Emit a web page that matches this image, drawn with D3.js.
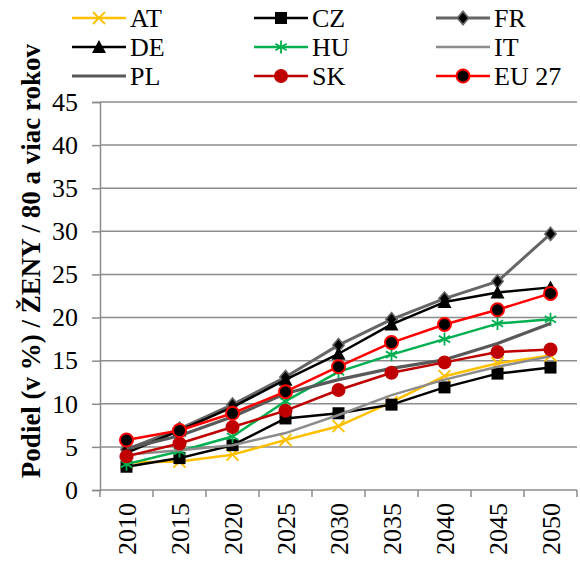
<!DOCTYPE html>
<html>
<head>
<meta charset="utf-8">
<script src="https://cdn.jsdelivr.net/npm/d3@7"></script>
<style>
  body { margin: 0; background: #fff; }
</style>
</head>
<body>
<div id="chart"></div>
<script>
// years on the x axis
const years = ["2010", "2015", "2020", "2025", "2030", "2035", "2040", "2045", "2050"];
const yTicks = [0, 5, 10, 15, 20, 25, 30, 35, 40, 45];

// share of women aged 80+ (%)
const AT = [3.2, 3.3, 4.1, 5.8, 7.4, 10.2, 13.2, 14.7, 15.6];
const CZ = [2.7, 3.7, 5.2, 8.3, 8.9, 9.9, 11.9, 13.5, 14.2];
const FR = [4.7, 7.1, 9.9, 13.1, 16.8, 19.8, 22.2, 24.2, 29.7];
const DE = [4.3, 6.9, 9.6, 12.8, 15.8, 19.2, 21.8, 22.9, 23.5];
const HU = [3.0, 4.5, 6.2, 10.3, 13.7, 15.7, 17.5, 19.3, 19.8];
const IT = [4.1, 4.6, 5.2, 6.6, 8.7, 11.0, 12.8, 14.3, 15.5];
const PL = [4.8, 6.3, 8.5, 11.2, 12.8, 14.1, 15.1, 17.0, 19.3];
const SK = [3.9, 5.4, 7.3, 9.2, 11.6, 13.6, 14.8, 16.0, 16.3];
const EU27 = [5.8, 6.9, 8.9, 11.4, 14.3, 17.1, 19.2, 20.9, 22.8];

const series = [
  { name: "AT", values: AT, color: "#FFC000", marker: "x", width: 2.5 },
  { name: "CZ", values: CZ, color: "#000000", marker: "square", width: 2.5 },
  { name: "FR", values: FR, color: "#666666", marker: "diamond", width: 3 },
  { name: "DE", values: DE, color: "#000000", marker: "triangle", width: 2.5 },
  { name: "HU", values: HU, color: "#00B050", marker: "star", width: 2.5 },
  { name: "IT", values: IT, color: "#8C8C8C", marker: null, width: 2.5 },
  { name: "PL", values: PL, color: "#595959", marker: null, width: 3.2 },
  { name: "SK", values: SK, color: "#C00000", marker: "circle", width: 2.5 },
  { name: "EU 27", values: EU27, color: "#FF0000", marker: "eu", width: 2.5 }
];

const FONT = "'Liberation Serif'";
const FS = "26px";

const W = 580, H = 570;
const svg = d3.select("#chart").append("svg")
  .attr("width", W).attr("height", H);

const plotLeft = 100, plotRight = 577, plotTop = 102, plotBottom = 490;

const x = d3.scaleBand().domain(years).range([plotLeft, plotRight]);
const y = d3.scaleLinear().domain([0, 45]).range([plotBottom, plotTop]);
const cx = d => x(d) + x.bandwidth() / 2;

// gridlines
svg.append("g").selectAll("line")
  .data(yTicks.filter(t => t > 0))
  .join("line")
  .attr("x1", plotLeft).attr("x2", plotRight)
  .attr("y1", d => y(d)).attr("y2", d => y(d))
  .attr("stroke", "#8C8C8C").attr("stroke-width", 1.5);

// y axis
const yAxis = svg.append("g")
  .attr("transform", `translate(${plotLeft},0)`)
  .call(d3.axisLeft(y).tickValues(yTicks).tickSize(8).tickPadding(14))
  .attr("font-family", null).attr("font-size", null);
yAxis.select(".domain").attr("stroke", "#8C8C8C").attr("stroke-width", 1.5);
yAxis.selectAll(".tick line").attr("stroke", "#8C8C8C").attr("stroke-width", 1.5);
yAxis.selectAll(".tick text")
  .attr("fill", "#000")
  .style("font-size", FS)
  .style("font-family", FONT);

// x axis: ticks between categories
svg.append("line")
  .attr("x1", plotLeft).attr("x2", plotRight)
  .attr("y1", plotBottom).attr("y2", plotBottom)
  .attr("stroke", "#8C8C8C").attr("stroke-width", 1.5);
svg.append("g").selectAll("line")
  .data(years.concat(["end"]))
  .join("line")
  .attr("x1", (d, i) => plotLeft + i * x.step())
  .attr("x2", (d, i) => plotLeft + i * x.step())
  .attr("y1", plotBottom).attr("y2", plotBottom + 7)
  .attr("stroke", "#8C8C8C").attr("stroke-width", 1.5);

svg.append("g").selectAll("text")
  .data(years)
  .join("text")
  .attr("transform", d => `translate(${cx(d) + 9},${plotBottom + 13}) rotate(-90)`)
  .attr("text-anchor", "end")
  .style("font-family", FONT)
  .style("font-size", FS)
  .text(d => d);

// y title
svg.append("text")
  .attr("transform", `translate(40,261) rotate(-90)`)
  .attr("text-anchor", "middle")
  .style("font-family", FONT)
  .style("font-size", "27px")
  .style("font-weight", "bold")
  .text("Podiel (v %) / ŽENY / 80 a viac rokov");

function drawMarker(g, s, px, py) {
  const m = s.marker;
  if (m === "x") {
    const r = 6;
    g.append("path")
      .attr("d", `M${px - r},${py - r}L${px + r},${py + r}M${px - r},${py + r}L${px + r},${py - r}`)
      .attr("stroke", s.color).attr("stroke-width", 1.8).attr("fill", "none");
  } else if (m === "square") {
    g.append("rect").attr("x", px - 6).attr("y", py - 6)
      .attr("width", 12).attr("height", 12).attr("fill", "#000");
  } else if (m === "diamond") {
    g.append("path")
      .attr("d", d3.symbol(d3.symbolDiamond, 70)())
      .attr("transform", `translate(${px},${py}) scale(1.25,0.85)`)
      .attr("fill", "#000").attr("stroke", "#666").attr("stroke-width", 1.5);
  } else if (m === "triangle") {
    g.append("path")
      .attr("d", `M${px},${py - 7}L${px + 7},${py + 6}L${px - 7},${py + 6}Z`)
      .attr("fill", "#000");
  } else if (m === "star") {
    const r = 6.5;
    let d = `M${px},${py - r}L${px},${py + r}`;
    [30, 150].forEach(a => {
      const rad = a * Math.PI / 180;
      d += `M${px - r * Math.cos(rad)},${py - r * Math.sin(rad)}L${px + r * Math.cos(rad)},${py + r * Math.sin(rad)}`;
    });
    g.append("path").attr("d", d)
      .attr("stroke", s.color).attr("stroke-width", 1.8).attr("fill", "none");
  } else if (m === "circle") {
    g.append("circle").attr("cx", px).attr("cy", py).attr("r", 7)
      .attr("fill", "#C00000");
  } else if (m === "eu") {
    g.append("circle").attr("cx", px).attr("cy", py).attr("r", 6.5)
      .attr("fill", "#000").attr("stroke", "#FF0000").attr("stroke-width", 2);
  }
}

const line = d3.line().x((d, i) => cx(years[i])).y(d => y(d));

series.forEach(s => {
  const g = svg.append("g");
  g.append("path")
    .datum(s.values)
    .attr("d", line)
    .attr("fill", "none")
    .attr("stroke", s.color)
    .attr("stroke-width", s.width)
    .attr("stroke-linejoin", "round");
  s.values.forEach((v, i) => drawMarker(g, s, cx(years[i]), y(v)));
});

// legend, 3 columns x 3 rows
const legCols = [72, 254, 436];
const legRows = [18, 47, 76];
series.forEach((s, i) => {
  const lx = legCols[i % 3], ly = legRows[Math.floor(i / 3)];
  const g = svg.append("g");
  g.append("line")
    .attr("x1", lx).attr("x2", lx + 54)
    .attr("y1", ly).attr("y2", ly)
    .attr("stroke", s.color).attr("stroke-width", s.width);
  drawMarker(g, s, lx + 27, ly);
  g.append("text")
    .attr("x", lx + 58).attr("y", ly + 9)
    .style("font-family", FONT)
    .style("font-size", FS)
    .text(s.name);
});
</script>
</body>
</html>
